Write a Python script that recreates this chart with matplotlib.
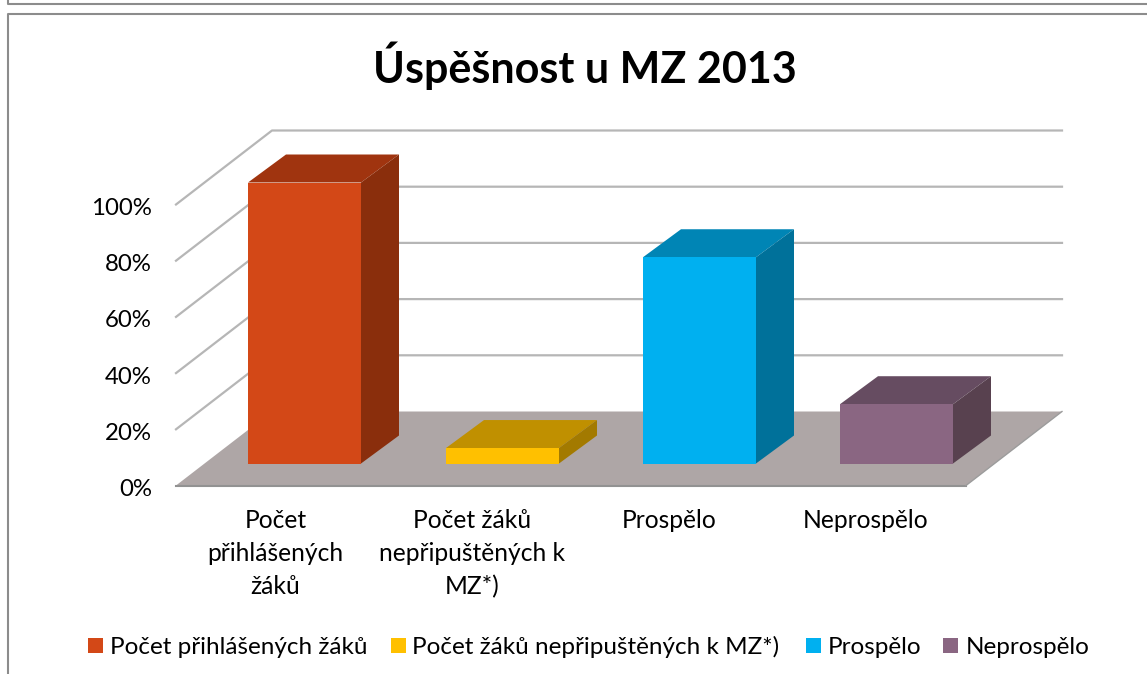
import matplotlib
matplotlib.use("Agg")
import matplotlib.pyplot as plt
from matplotlib.patches import Polygon, Rectangle

plt.rcParams['font.family'] = ['Lato', 'Open Sans', 'DejaVu Sans']

title = "Úspěšnost u MZ 2013"
labels = ["Počet\npřihlášených\nžáků", "Počet žáků\nnepřipuštěných k\nMZ*)", "Prospělo", "Neprospělo"]
legend_labels = ["Počet přihlášených žáků", "Počet žáků nepřipuštěných k MZ*)", "Prospělo", "Neprospělo"]
values = [100, 5.5, 73.4, 21.1]
ticks = [0, 20, 40, 60, 80, 100]

front_colors = ["#d34817", "#ffc000", "#00b0f0", "#8a6682"]
top_colors = ["#a0340f", "#c09000", "#0085b5", "#664c61"]
side_colors = ["#8a2e0c", "#a37a00", "#00719a", "#58414f"]

# axes in image pixels, y going down
fig = plt.figure(figsize=(11.47, 6.74), dpi=100)
ax = fig.add_axes([0, 0, 1, 1])
ax.set_xlim(0, 1147)
ax.set_ylim(674, 0)
ax.axis("off")

# chart frame
frame = "#8c8c8c"
ax.plot([8, 8, 1147], [674, 14, 14], color=frame, lw=1.5)
ax.plot([8, 8, 1147], [0, 4, 4], color=frame, lw=1.5)

# floor and walls
depth_x, depth_y = 96, 74
x0, x1 = 176, 966
y_zero = 485.5
per_pct = 2.81

ax.add_patch(Polygon([(x0, y_zero), (x1, y_zero), (x1 + depth_x, y_zero - depth_y), (x0 + depth_x, y_zero - depth_y)],
                     closed=True, fc="#aea6a6", ec="none", zorder=1))
ax.plot([x0, x1], [y_zero, y_zero], color="#929292", lw=1.5, zorder=1)
ax.plot([x1, x1 + depth_x], [y_zero, y_zero - depth_y], color="#9c9c9c", lw=1, zorder=1)

for t in ticks:
    y = y_zero - t * per_pct
    if t > 0:
        ax.plot([x0, x0 + depth_x, x1 + depth_x], [y, y - depth_y, y - depth_y], color="#b6b6b6", lw=1.6, zorder=1)
    ax.text(152, y + 4, "%d%%" % t, ha="right", va="center", fontsize=17.3, color="black")

# bars
bar_left = [248, 446, 643, 840]
bar_w = 113
bar_base = 463.5
dx, dy = 38, 28
label_x = [275.5, 472, 669, 866]
for i, v in enumerate(values):
    l, r = bar_left[i], bar_left[i] + bar_w
    top = bar_base - v * per_pct
    ax.add_patch(Polygon([(l, top), (r, top), (r + dx, top - dy), (l + dx, top - dy)], fc=top_colors[i], ec="none", zorder=3))
    ax.add_patch(Polygon([(r, top), (r + dx, top - dy), (r + dx, bar_base - dy), (r, bar_base)], fc=side_colors[i], ec="none", zorder=3))
    ax.add_patch(Rectangle((l, top), bar_w, bar_base - top, fc=front_colors[i], ec="none", zorder=4))
    ax.text(label_x[i], 509, labels[i], ha="center", va="top", fontsize=17.7, linespacing=1.52, color="black")

ax.text(584.5, 66, title, ha="center", va="center", fontsize=31, fontweight="bold", color="black")

# legend
key_x = [88, 391, 806, 943]
text_x = [110, 412, 828, 966]
for i, s in enumerate(legend_labels):
    ax.add_patch(Rectangle((key_x[i], 638), 15, 15, fc=front_colors[i], ec="none"))
    ax.text(text_x[i], 647, s, ha="left", va="center", fontsize=17.45, color="black")

fig.savefig("out.png", dpi=100)
